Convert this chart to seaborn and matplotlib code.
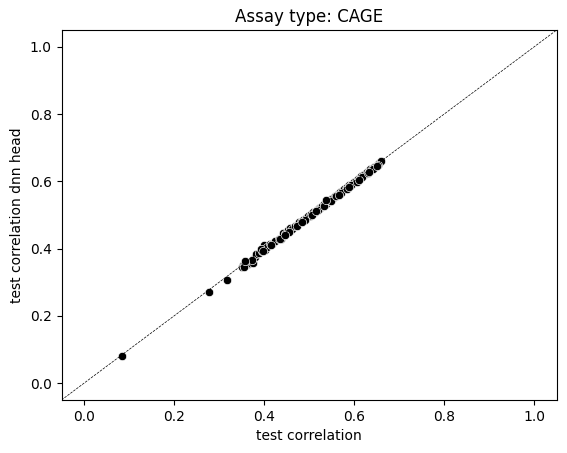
import numpy as np
import pandas as pd
import matplotlib
matplotlib.use('Agg')
import matplotlib.pyplot as plt
import seaborn as sns

# test correlation of the base model vs. the dnn head, CAGE tracks
test_corr = [0.084, 0.278, 0.318, 0.350, 0.353, 0.356, 0.360, 0.364, 0.368, 0.376,
             0.380, 0.383, 0.388, 0.395, 0.400, 0.402, 0.406, 0.412, 0.418, 0.425,
             0.432, 0.438, 0.443, 0.447, 0.452, 0.458, 0.463, 0.468, 0.472, 0.477,
             0.482, 0.487, 0.492, 0.497, 0.501, 0.505, 0.509, 0.513, 0.517, 0.521,
             0.525, 0.529, 0.533, 0.537, 0.541, 0.545, 0.549, 0.553, 0.557, 0.561,
             0.565, 0.569, 0.573, 0.577, 0.581, 0.585, 0.589, 0.593, 0.597, 0.600,
             0.604, 0.608, 0.612, 0.616, 0.620, 0.624, 0.628, 0.632, 0.636, 0.640,
             0.644, 0.648, 0.652, 0.656, 0.660,
             0.355, 0.372, 0.392, 0.415, 0.436, 0.455, 0.474, 0.490, 0.506, 0.519,
             0.534, 0.548, 0.559, 0.571, 0.583, 0.594, 0.606, 0.618, 0.630, 0.642,
             0.653, 0.358, 0.398, 0.446, 0.485, 0.515, 0.538, 0.566, 0.588, 0.610,
             0.634, 0.650]
test_corr_dnn = [0.081, 0.271, 0.307, 0.345, 0.350, 0.352, 0.356, 0.354, 0.358, 0.357,
                 0.375, 0.385, 0.386, 0.393, 0.410, 0.396, 0.404, 0.413, 0.414, 0.422,
                 0.428, 0.430, 0.445, 0.443, 0.455, 0.462, 0.458, 0.466, 0.470, 0.480,
                 0.478, 0.484, 0.490, 0.498, 0.496, 0.503, 0.508, 0.510, 0.514, 0.520,
                 0.522, 0.526, 0.533, 0.532, 0.540, 0.542, 0.547, 0.550, 0.556, 0.558,
                 0.562, 0.568, 0.570, 0.576, 0.578, 0.582, 0.588, 0.590, 0.596, 0.598,
                 0.602, 0.606, 0.610, 0.615, 0.618, 0.622, 0.628, 0.630, 0.636, 0.638,
                 0.642, 0.646, 0.650, 0.655, 0.661,
                 0.345, 0.366, 0.398, 0.410, 0.428, 0.449, 0.466, 0.486, 0.500, 0.514,
                 0.528, 0.541, 0.556, 0.564, 0.577, 0.590, 0.598, 0.613, 0.624, 0.636,
                 0.647, 0.362, 0.392, 0.439, 0.480, 0.512, 0.543, 0.560, 0.583, 0.604,
                 0.628, 0.645]

df = pd.DataFrame({'test correlation': test_corr,
                   'test correlation dnn head': test_corr_dnn})

fig, ax = plt.subplots(figsize=(5.67, 4.53), dpi=100)
fig.subplots_adjust(left=0.1085, right=0.982, top=0.934, bottom=0.117)

ax.plot([-0.05, 1.05], [-0.05, 1.05], color='black', linestyle='--', linewidth=0.5)
sns.scatterplot(data=df, x='test correlation', y='test correlation dnn head',
                color='black', ax=ax)

ax.set_xlim(-0.05, 1.05)
ax.set_ylim(-0.05, 1.05)
ax.set_title('Assay type: CAGE')

fig.savefig('out.png', dpi=100)
